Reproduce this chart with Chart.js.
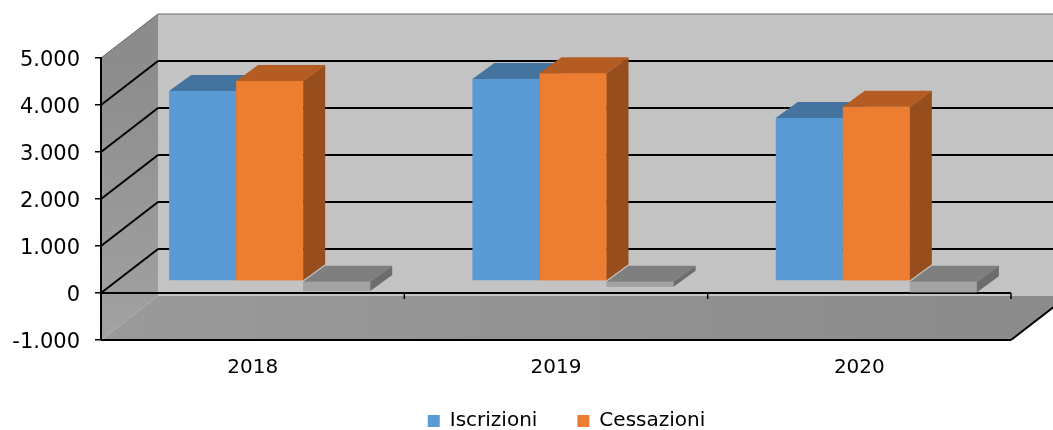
<!DOCTYPE html>
<html>
<head>
<meta charset="utf-8">
<script src="https://cdn.jsdelivr.net/npm/chart.js@4.4.1/dist/chart.umd.min.js"></script>
<style>
  html, body { margin: 0; padding: 0; background: #fff; }
  #wrap { width: 1053px; height: 430px; }
</style>
</head>
<body>
<div id="wrap"><canvas id="chart" width="1053" height="430"></canvas></div>
<script>
// data
const years = ['2018', '2019', '2020'];
const iscrizioni = [4040, 4300, 3470];
const cessazioni = [4255, 4420, 3710];
const saldo = [-215, -120, -240];
const yTicks = [-1000, 0, 1000, 2000, 3000, 4000, 5000];

// look
const frontColors = ['#5b9bd5', '#ed7d31', '#a3a3a3'];
const topColors = ['#44739f', '#b45c22', '#7f7f7f'];
const sideColors = ['#3d6a93', '#984e1c', '#6c6c6c'];
const WALL = { dx: 57, dy: -44 };     // depth of the box
const BAR_OFF = { dx: 17, dy: -12 };  // where the bars stand in the box
const BAR_DEPTH = { dx: 22, dy: -16 };

function fmt(v) {
    return String(v).replace(/\B(?=(\d{3})+(?!\d))/g, '.');
}

function poly(ctx, pts, fill) {
    ctx.beginPath();
    ctx.moveTo(pts[0][0], pts[0][1]);
    for (let i = 1; i < pts.length; i++) ctx.lineTo(pts[i][0], pts[i][1]);
    ctx.closePath();
    ctx.fillStyle = fill;
    ctx.fill();
}

function line(ctx, x1, y1, x2, y2, color, w) {
    ctx.beginPath();
    ctx.moveTo(x1, y1);
    ctx.lineTo(x2, y2);
    ctx.strokeStyle = color;
    ctx.lineWidth = w;
    ctx.stroke();
}

const box3d = {
    id: 'box3d',
    afterLayout(chart) {
        // legend sits right of centre and low in the original
        const lg = chart.legend;
        lg.left += 61; lg.right += 61;
        lg.top -= 14; lg.bottom = chart.height;
    },
    beforeDraw(chart) {
        const { ctx, chartArea: a, scales: { y } } = chart;
        const W = chart.width;
        const top = y.getPixelForValue(y.max);
        const bot = y.getPixelForValue(y.min);
        const zero = y.getPixelForValue(0);
        ctx.save();

        // back wall
        ctx.fillStyle = '#c3c3c3';
        ctx.fillRect(a.left + WALL.dx, top + WALL.dy, W, bot - top);

        // side wall
        let g = ctx.createLinearGradient(0, top, 0, bot);
        g.addColorStop(0, '#8c8c8c');
        g.addColorStop(1, '#a2a2a2');
        poly(ctx, [[a.left, top], [a.left + WALL.dx, top + WALL.dy],
                   [a.left + WALL.dx, bot + WALL.dy], [a.left, bot]], g);

        // floor
        g = ctx.createLinearGradient(a.left, 0, a.right, 0);
        g.addColorStop(0, '#9a9a9a');
        g.addColorStop(1, '#8b8b8b');
        poly(ctx, [[a.left, bot], [a.right, bot],
                   [a.right + WALL.dx, bot + WALL.dy], [a.left + WALL.dx, bot + WALL.dy]], g);

        // back gridlines + side diagonals
        yTicks.forEach(v => {
            if (v < 0) return;
            const p = y.getPixelForValue(v);
            const c = v === y.max ? '#6a6a6a' : '#000';
            const w = v === y.max ? 1 : 2;
            line(ctx, a.left + WALL.dx, p + WALL.dy, W, p + WALL.dy, c, w);
            line(ctx, a.left, p, a.left + WALL.dx, p + WALL.dy, c, w);
        });

        // floor front edge
        line(ctx, a.left, bot, a.right, bot, '#000', 2);
        line(ctx, a.right, bot, a.right + WALL.dx, bot + WALL.dy, '#000', 2);

        // category axis at zero
        line(ctx, a.left, zero, a.right, zero, '#000', 2);
        const x = chart.scales.x;
        const step = x.getPixelForTick(1) - x.getPixelForTick(0);
        for (let i = 0; i <= years.length; i++) {
            const px = i < years.length ? x.getPixelForTick(i) - step / 2 : a.right;
            line(ctx, px, zero, px, zero + 6, '#000', 1.5);
        }
        ctx.restore();
    },
    beforeDatasetsDraw(chart) {
        chart.ctx.save();
        chart.ctx.translate(BAR_OFF.dx, BAR_OFF.dy);
    },
    afterDatasetsDraw(chart) {
        const ctx = chart.ctx;
        const metas = chart.getSortedVisibleDatasetMetas();
        for (let i = 0; i < years.length; i++) {
            metas.forEach((meta, k) => {
                const bar = meta.data[i];
                if (k > 0) bar.draw(ctx);
                const { x, y, base, width } = bar.getProps(['x', 'y', 'base', 'width'], true);
                const l = x - width / 2, r = x + width / 2;
                const t = Math.min(y, base), b = Math.max(y, base);
                const d = BAR_DEPTH;
                poly(ctx, [[l, t], [r, t], [r + d.dx, t + d.dy], [l + d.dx, t + d.dy]], topColors[k]);
                poly(ctx, [[r, t], [r + d.dx, t + d.dy], [r + d.dx, b + d.dy], [r, b]], sideColors[k]);
            });
        }
        ctx.restore();
    }
};

new Chart(document.getElementById('chart'), {
    type: 'bar',
    data: {
        labels: years,
        datasets: [
            { label: 'Iscrizioni', data: iscrizioni, backgroundColor: frontColors[0] },
            { label: 'Cessazioni', data: cessazioni, backgroundColor: frontColors[1] },
            { label: 'Saldo', data: saldo, backgroundColor: frontColors[2] }
        ]
    },
    options: {
        responsive: false,
        animation: false,
        layout: { padding: { left: 0, right: 42, top: 58, bottom: 20 } },
        datasets: {
            bar: { categoryPercentage: 0.663, barPercentage: 1, borderWidth: 0 }
        },
        scales: {
            x: {
                grid: { display: false, drawTicks: false },
                border: { display: false },
                ticks: { padding: 16, color: '#000', font: { family: 'DejaVu Sans', size: 20 } },
                afterFit(s) { s.height = 45; }
            },
            y: {
                min: yTicks[0],
                max: yTicks[yTicks.length - 1],
                grid: { drawOnChartArea: false, drawTicks: true, tickLength: 6, color: '#000', lineWidth: 1.5 },
                border: { display: true, color: '#000', width: 2 },
                ticks: {
                    stepSize: 1000, padding: 15, labelOffset: 3, color: '#000',
                    font: { family: 'DejaVu Sans', size: 21 },
                    callback: v => fmt(v)
                },
                afterFit(s) { s.width = 101; }
            }
        },
        plugins: {
            tooltip: { enabled: false },
            legend: {
                position: 'bottom',
                maxHeight: 25,
                labels: {
                    boxWidth: 12, boxHeight: 12, padding: 40, color: '#000',
                    font: { family: 'DejaVu Sans', size: 20 },
                    filter: item => item.datasetIndex < 2
                }
            }
        }
    },
    plugins: [box3d]
});
</script>
</body>
</html>
